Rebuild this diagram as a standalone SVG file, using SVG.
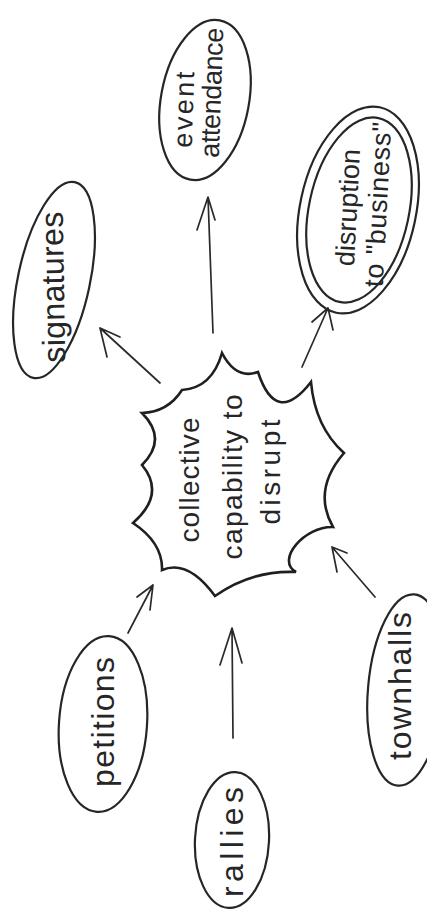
<svg xmlns="http://www.w3.org/2000/svg" width="427" height="920" viewBox="0 0 427 920">
<style>
.bg{fill:#ffffff}
.node{fill:none;stroke:#262626;stroke-width:2.2}
.burst{fill:none;stroke:#1f1f1f;stroke-width:2.6;stroke-linejoin:miter}
.conn{fill:none;stroke:#2a2a2a;stroke-width:1.7;stroke-linecap:round;stroke-linejoin:round}
.lbl{font-family:"Liberation Sans","DejaVu Sans",sans-serif;fill:#262626;text-anchor:middle}
.big{font-size:32px}
.mid{font-size:27px}
.ctr{font-size:28px}
</style>
<rect class="bg" x="0" y="0" width="427" height="920"/>
<g id="connectors">
<path class="conn" d="M160 383 L100 328 M120 337 L100 328 L107 357"/>
<path class="conn" d="M213 333 L208 197 M197 230 L208 197 L215 220"/>
<path class="conn" d="M302 367 L328 308 M312 322 L328 308 L333 330"/>
<path class="conn" d="M128 633 L153 585 M137 597 L153 585 L150 610"/>
<path class="conn" d="M233 738 L232 628 M220 665 L232 628 L242 663"/>
<path class="conn" d="M375 597 L332 547 M347 553 L332 547 L337 572"/>
</g>
<g id="center">
<path class="burst" d="M222 353 Q236 380 258 372 Q276 427 311 382 Q315 427 344 453 Q312 490 333 527 C305 526 275 560 296 572 Q252 570 215 596 Q188 559 162 570 Q163 543 133 523 Q166 494 142 465 Q168 439 142 413 Q168 412 182 390 Q212 388 222 353 Z"/>
<text class="lbl ctr" transform="translate(199 480) rotate(-90)" textLength="125" lengthAdjust="spacing">collective</text>
<text class="lbl ctr" transform="translate(242 477) rotate(-90)" textLength="165" lengthAdjust="spacing">capability to</text>
<text class="lbl ctr" transform="translate(280 472) rotate(-90)" textLength="105" lengthAdjust="spacing">disrupt</text>
</g>
<g id="signatures">
<ellipse class="node" cx="54" cy="280" rx="36" ry="100" transform="rotate(12 54 280)"/>
<text class="lbl big" transform="translate(64 287) rotate(-91)" textLength="151" lengthAdjust="spacing">signatures</text>
</g>
<g id="event-attendance">
<ellipse class="node" cx="205" cy="100" rx="44" ry="81" transform="rotate(10.5 205 100)"/>
<text class="lbl mid" transform="translate(193 110) rotate(-88)" textLength="76" lengthAdjust="spacing">event</text>
<text class="lbl mid" transform="translate(221 93) rotate(-88)" textLength="130" lengthAdjust="spacing">attendance</text>
</g>
<g id="disruption">
<ellipse class="node" cx="358" cy="210" rx="58" ry="105" transform="rotate(12 358 210)"/>
<ellipse class="node" cx="359" cy="210" rx="50" ry="94" transform="rotate(12 359 210)"/>
<text class="lbl mid" transform="translate(357 208) rotate(-87)" textLength="117" lengthAdjust="spacing">disruption</text>
<text class="lbl mid" transform="translate(387 205) rotate(-87)" textLength="165" lengthAdjust="spacing">to "business"</text>
</g>
<g id="petitions">
<ellipse class="node" cx="103" cy="724" rx="44" ry="88" transform="rotate(4 103 724)"/>
<text class="lbl big" transform="translate(114 722) rotate(-90)" textLength="130" lengthAdjust="spacing">petitions</text>
</g>
<g id="rallies">
<ellipse class="node" cx="232" cy="840" rx="37" ry="68" transform="rotate(3 232 840)"/>
<text class="lbl big" transform="translate(243 842) rotate(-90)" textLength="110" lengthAdjust="spacing">rallies</text>
</g>
<g id="townhalls">
<ellipse class="node" cx="406" cy="690" rx="38" ry="96" transform="rotate(5 406 690)"/>
<text class="lbl big" transform="translate(411 686) rotate(-90)" textLength="148" lengthAdjust="spacing">townhalls</text>
</g>
</svg>
